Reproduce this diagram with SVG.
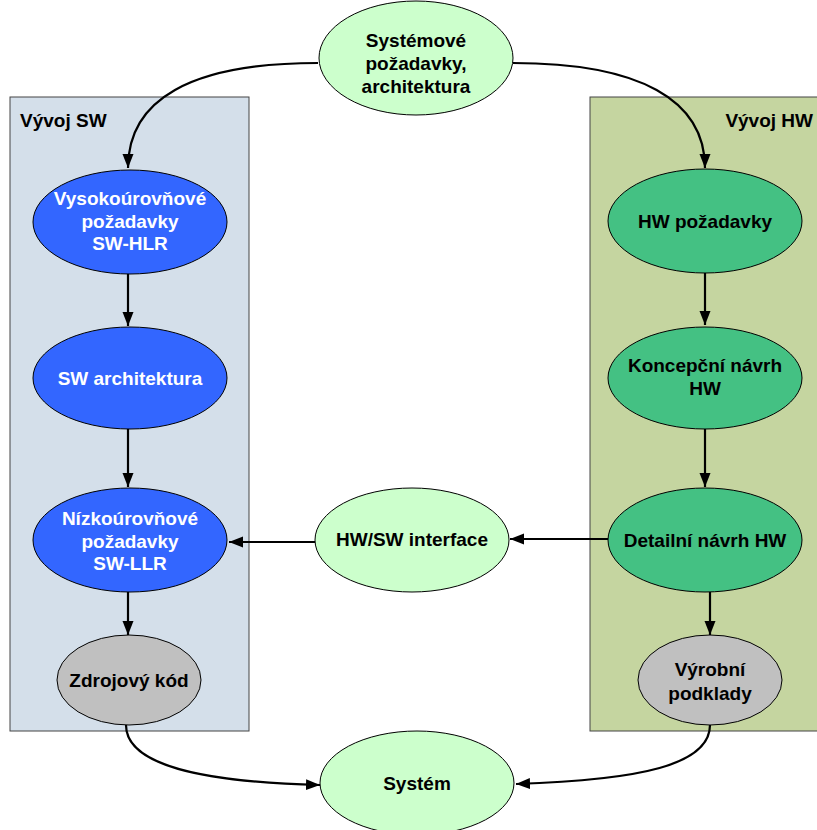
<svg xmlns="http://www.w3.org/2000/svg" width="817" height="830" viewBox="0 0 817 830">
<defs>
<marker id="ah" markerUnits="userSpaceOnUse" markerWidth="16" markerHeight="12" refX="14" refY="5.5" orient="auto">
<path d="M0,0 L14,5.5 L0,11 z" fill="#000"/>
</marker>
<style>
.t{font-family:"Liberation Sans",Arial,sans-serif;font-weight:bold;font-size:19px;text-anchor:middle;fill:#000}
.w{fill:#fff}
.lbl{font-family:"Liberation Sans",Arial,sans-serif;font-weight:bold;font-size:19px;fill:#000}
.e{stroke:#000;stroke-width:1}
.blue{fill:#3366ff}
.green{fill:#44c183}
.lg{fill:#ccffcc}
.gray{fill:#c0c0c0}
.c{fill:none;stroke:#000;stroke-width:2.2;marker-end:url(#ah)}
</style>
</defs>
<rect width="817" height="830" fill="#fff"/>
<g id="swbox"><rect x="10" y="97" width="239" height="634" fill="#d4dfea" stroke="#444" stroke-width="1"/><text class="lbl" x="20" y="127">Vývoj SW</text></g>
<g id="hwbox"><rect x="590" y="97" width="240" height="634" fill="#c5d5a0" stroke="#444" stroke-width="1"/><text class="lbl" x="813" y="127" text-anchor="end">Vývoj HW</text></g>
<g id="connectors">
<path class="c" d="M318,63 C190,63 128,100 128,168"/>
<path class="c" d="M513,63 C640,63 705,100 705,168"/>
<path class="c" d="M128,273 L128,326"/>
<path class="c" d="M128,429 L128,487"/>
<path class="c" d="M128,592 L128,635"/>
<path class="c" d="M705,273 L705,325"/>
<path class="c" d="M705,429 L705,487"/>
<path class="c" d="M710,592 L710,635"/>
<path class="c" d="M608,539 L510,539"/>
<path class="c" d="M315,542 L229,542"/>
<path class="c" d="M126,725 C126,765 200,782 320,785"/>
<path class="c" d="M710,725 C710,765 640,780 516,784"/>
</g>
<g id="sys_req"><ellipse class="e lg" cx="416" cy="58" rx="97" ry="57"/><text class="t" x="416" y="47">Systémové</text><text class="t" x="416" y="70">požadavky,</text><text class="t" x="416" y="93">architektura</text></g>
<g id="hlr"><ellipse class="e blue" cx="130" cy="222" rx="97" ry="52"/><text class="t w" x="130" y="205">Vysokoúrovňové</text><text class="t w" x="130" y="228">požadavky</text><text class="t w" x="130" y="250">SW-HLR</text></g>
<g id="swarch"><ellipse class="e blue" cx="130" cy="378" rx="97" ry="51"/><text class="t w" x="130" y="385">SW architektura</text></g>
<g id="llr"><ellipse class="e blue" cx="130" cy="540" rx="97" ry="52"/><text class="t w" x="130" y="525">Nízkoúrovňové</text><text class="t w" x="130" y="548">požadavky</text><text class="t w" x="130" y="570">SW-LLR</text></g>
<g id="code"><ellipse class="e gray" cx="129" cy="680" rx="72" ry="45"/><text class="t" x="129" y="687">Zdrojový kód</text></g>
<g id="hwreq"><ellipse class="e green" cx="705" cy="221" rx="97" ry="52"/><text class="t" x="705" y="228">HW požadavky</text></g>
<g id="concept"><ellipse class="e green" cx="705" cy="378" rx="97" ry="51"/><text class="t" x="705" y="372">Koncepční návrh</text><text class="t" x="705" y="395">HW</text></g>
<g id="detail"><ellipse class="e green" cx="705" cy="540" rx="97" ry="52"/><text class="t" x="705" y="547">Detailní návrh HW</text></g>
<g id="prod"><ellipse class="e gray" cx="710" cy="680" rx="72" ry="45"/><text class="t" x="710" y="676">Výrobní</text><text class="t" x="710" y="700">podklady</text></g>
<g id="iface"><ellipse class="e lg" cx="412" cy="540" rx="97" ry="52"/><text class="t" x="412" y="546">HW/SW interface</text></g>
<g id="system"><ellipse class="e lg" cx="417" cy="783" rx="97" ry="52"/><text class="t" x="417" y="790">Systém</text></g>
</svg>
